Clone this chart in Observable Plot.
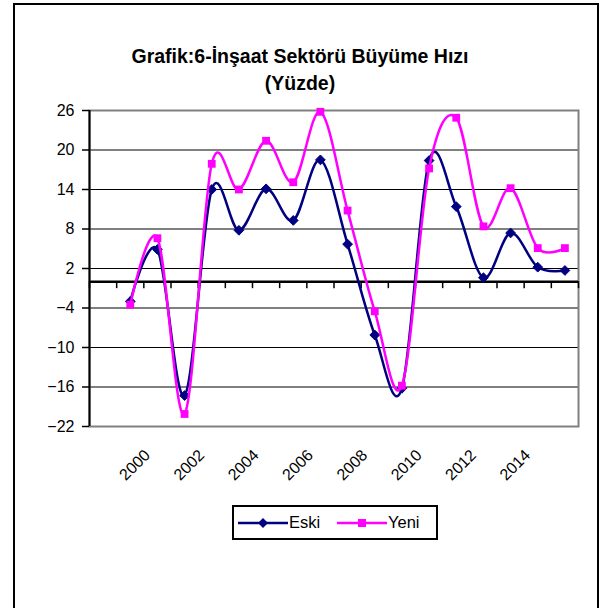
<!DOCTYPE html>
<html>
<head>
<meta charset="utf-8">
<script src="https://cdn.jsdelivr.net/npm/d3@7"></script>
<script src="https://cdn.jsdelivr.net/npm/@observablehq/plot@0.6"></script>
<style>
  body { margin: 0; background: #fff; font-family: "Liberation Sans", Arial, sans-serif; }
  #wrap { position: relative; width: 600px; height: 608px; overflow: hidden; }
  #frame { position: absolute; left: 13px; top: 3px; width: 586px; height: 640px; border: 2px solid #000; box-sizing: border-box; }
  #title { position: absolute; left: 0; top: 43px; width: 600px; text-align: center; font-weight: bold; font-size: 19.5px; line-height: 27px; color: #000; }
  #chart { position: absolute; left: 0; top: 0; }
  #legend { position: absolute; left: 232px; top: 505px; width: 206px; height: 35px; border: 2px solid #000; box-sizing: border-box; background: #fff; font-size: 16.5px; }
  #legend .item { position: absolute; top: 0; height: 31px; display: flex; align-items: center; }
  #legend svg { display: block; }
</style>
</head>
<body>
<div id="wrap">
  <div id="frame"></div>
  <div id="chart"></div>
  <div id="title">Grafik:6-İnşaat Sektörü Büyüme Hızı<br>(Yüzde)</div>
  <div id="legend"></div>
</div>
<script>
// ---- data ----
const categories = [1998, 1999, 2000, 2001, 2002, 2003, 2004, 2005, 2006, 2007, 2008, 2009, 2010, 2011, 2012, 2013, 2014, 2015];
const years = [1999, 2000, 2001, 2002, 2003, 2004, 2005, 2006, 2007, 2008, 2009, 2010, 2011, 2012, 2013, 2014, 2015];
const eski = [-3.0, 4.9, -17.3, 14.0, 7.8, 14.1, 9.3, 18.5, 5.7, -8.1, -16.2, 18.4, 11.4, 0.6, 7.4, 2.2, 1.7];
const yeni = [-3.5, 6.6, -20.1, 17.9, 14.0, 21.4, 15.1, 25.8, 10.8, -4.5, -15.8, 17.2, 24.9, 8.4, 14.2, 5.1, 5.1];
const yTicks = [-22, -16, -10, -4, 2, 8, 14, 20, 26];
const xLabels = [2000, 2002, 2004, 2006, 2008, 2010, 2012, 2014];
const seriesNames = ["Eski", "Yeni"];
const seriesColors = ["#000080", "#FF00FF"];

// ---- layout ----
const W = 600, H = 608;
const mTop = 110, mBottom = 182, mLeft = 89, mRight = 22;
const xDomain = [categories[0] - 0.5, categories[categories.length - 1] + 0.5];
const yDomain = [yTicks[0], yTicks[yTicks.length - 1]];
const boundaries = categories.map(c => c - 0.5).concat([xDomain[1]]);

const yScale = Plot.scale({y: {type: "linear", domain: yDomain, range: [H - mBottom, mTop]}});
const zeroOffset = yScale.apply(0) - yScale.apply(yDomain[0]);

const rowsE = years.map((yr, i) => ({year: yr, value: eski[i], s: seriesNames[0]}));
const rowsY = years.map((yr, i) => ({year: yr, value: yeni[i], s: seriesNames[1]}));

const chart = Plot.plot({
  width: W, height: H,
  marginTop: mTop, marginBottom: mBottom, marginLeft: mLeft, marginRight: mRight,
  style: {fontFamily: "'Liberation Sans', Arial, sans-serif", fontSize: "16px", color: "#000", background: "transparent", overflow: "visible"},
  x: {type: "linear", domain: xDomain},
  y: {type: "linear", domain: yDomain},
  marks: [
    Plot.ruleY(yTicks.slice(1, -1), {stroke: "#000", strokeWidth: 1}),
    Plot.frame({stroke: "#808080", strokeWidth: 2}),
    Plot.ruleX([xDomain[0]], {stroke: "#000", strokeWidth: 2}),
    Plot.ruleY([0], {stroke: "#000", strokeWidth: 2.5}),
    Plot.axisY({ticks: yTicks, tickSize: 7, tickPadding: 8, label: null, stroke: "#000", strokeWidth: 1.5, fill: "#000", fontSize: 16, strokeOpacity: 1}),
    Plot.axisX({ticks: boundaries, tickFormat: () => "", tickSize: 7, dy: zeroOffset, label: null, stroke: "#000", strokeWidth: 1.5, strokeOpacity: 1}),
    Plot.axisX({ticks: xLabels, tickFormat: d => String(d), tickSize: 0, tickPadding: 26, tickRotate: -45, dx: -10, label: null, fill: "#000", fontSize: 16}),
    Plot.line(rowsE, {x: "year", y: "value", stroke: seriesColors[0], strokeWidth: 2.5, curve: "cardinal"}),
    Plot.dot(rowsE, {x: "year", y: "value", symbol: "diamond2", r: 4.4, fill: seriesColors[0], stroke: seriesColors[0], strokeWidth: 1}),
    Plot.line(rowsY, {x: "year", y: "value", stroke: seriesColors[1], strokeWidth: 2.5, curve: "cardinal"}),
    Plot.dot(rowsY, {x: "year", y: "value", symbol: "square", r: 4.4, fill: seriesColors[1], stroke: "none"})
  ]
});
document.getElementById("chart").appendChild(chart);

// ---- legend ----
const legend = document.getElementById("legend");
const itemLeft = [4, 103];
seriesNames.forEach((name, i) => {
  const item = document.createElement("div");
  item.className = "item";
  item.style.left = itemLeft[i] + "px";
  const sw = d3.create("svg").attr("width", 50).attr("height", 14);
  sw.append("line").attr("x1", 0).attr("x2", 50).attr("y1", 7).attr("y2", 7)
    .attr("stroke", seriesColors[i]).attr("stroke-width", 2.5);
  if (i === 0) {
    sw.append("path").attr("d", "M25,2L30,7L25,12L20,7Z").attr("fill", seriesColors[i]);
  } else {
    sw.append("rect").attr("x", 21).attr("y", 3).attr("width", 8).attr("height", 8).attr("fill", seriesColors[i]);
  }
  item.appendChild(sw.node());
  const t = document.createElement("span");
  t.textContent = name;
  t.style.marginLeft = "1px";
  item.appendChild(t);
  legend.appendChild(item);
});
</script>
</body>
</html>
